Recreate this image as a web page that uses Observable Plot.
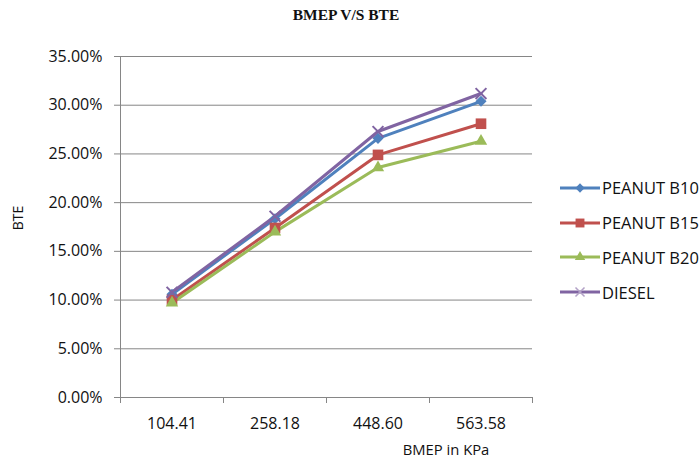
<!DOCTYPE html>
<html>
<head>
<meta charset="utf-8">
<script src="https://cdn.jsdelivr.net/npm/d3@7"></script>
<script src="https://cdn.jsdelivr.net/npm/@observablehq/plot@0.6"></script>
<style>
  body { margin: 0; background: #fff; }
  #wrap { position: relative; width: 700px; height: 460px; overflow: hidden; font-family: "Open Sans", sans-serif; color: #111; }
  #title { position: absolute; top: 7px; left: 0; width: 692px; text-align: center; font-family: "Liberation Serif", serif; font-weight: bold; font-size: 15.5px; line-height: 15.5px; }
  #ylabel { position: absolute; left: 18px; top: 218px; transform: translate(-50%, -50%) rotate(-90deg); font-size: 14px; line-height: 14px; white-space: nowrap; }
  #xlabel { position: absolute; left: 446px; top: 449px; transform: translate(-50%, -50%); font-size: 14.8px; line-height: 15px; white-space: nowrap; }
  #legend { position: absolute; left: 559px; top: 170.6px; font-size: 16.5px; }
  .item { display: flex; align-items: center; height: 34.7px; white-space: nowrap; }
  .item svg { margin-right: 1px; }
  #chart { position: absolute; left: 0; top: 0; }
</style>
</head>
<body>
<div id="wrap">
  <div id="chart"></div>
  <div id="title">BMEP V/S BTE</div>
  <div id="ylabel">BTE</div>
  <div id="xlabel">BMEP in KPa</div>
  <div id="legend"></div>
</div>
<script>
// Brake mean effective pressure (kPa) levels on the x axis
const loads = ["104.41", "258.18", "448.60", "563.58"];

// Brake thermal efficiency for each fuel
const peanutB10 = [0.106, 0.1835, 0.266, 0.304];
const peanutB15 = [0.100, 0.174, 0.249, 0.281];
const peanutB20 = [0.097, 0.170, 0.236, 0.263];
const diesel    = [0.108, 0.186, 0.273, 0.312];

const fuels = ["PEANUT B10", "PEANUT B15", "PEANUT B20", "DIESEL"];
const yTicks = [0, 0.05, 0.10, 0.15, 0.20, 0.25, 0.30, 0.35];

const colors = ["#4F81BD", "#C0504D", "#9BBB59", "#8064A2"];
const symbols = ["diamond2", "square", "triangle", "times"];
const radii = [5, 6, 4.6, 5];

const values = [peanutB10, peanutB15, peanutB20, diesel];
const rows = fuels.flatMap((fuel, s) =>
  values[s].map((bte, i) => ({ i, load: loads[i], fuel, bte }))
);

// category boundaries carry the x tick marks; labels sit at category centres
const bounds = d3.range(loads.length + 1).map(k => k - 0.5);
const centres = d3.range(loads.length);

const gray = "#868686";

const dotMarks = fuels.map((fuel, s) => {
  const data = rows.filter(d => d.fuel === fuel);
  const opts = { x: "i", y: "bte", symbol: () => symbols[s], r: radii[s] };
  if (symbols[s] === "times") {
    return Plot.dot(data, { ...opts, stroke: colors[s], strokeWidth: 2, fill: "none" });
  }
  return Plot.dot(data, { ...opts, fill: colors[s], stroke: "none" });
});

const chart = Plot.plot({
  width: 700,
  height: 460,
  marginLeft: 120,
  marginRight: 168,
  marginTop: 56,
  marginBottom: 63,
  style: { fontFamily: "Open Sans, sans-serif", fontSize: "16px", color: "#111", background: "transparent" },
  x: { type: "linear", domain: [-0.5, loads.length - 0.5] },
  y: { domain: [0, 0.35] },
  symbol: { type: "identity" },
  marks: [
    Plot.gridY(yTicks, { stroke: gray, strokeOpacity: 1 }),
    Plot.axisY(yTicks, { tickFormat: d3.format(".2%"), tickSize: 6, tickPadding: 12, stroke: gray, label: null }),
    Plot.ruleX([-0.5], { stroke: gray }),
    Plot.ruleY([0], { stroke: gray }),
    Plot.axisX(bounds, { tickSize: 6, tickFormat: () => "", stroke: gray, label: null }),
    Plot.axisX(centres, { tickSize: 0, tickPadding: 20, tickFormat: i => loads[i], label: null }),
    Plot.line(rows, { x: "i", y: "bte", z: "fuel", stroke: d => colors[fuels.indexOf(d.fuel)], strokeWidth: 3 }),
    ...dotMarks
  ]
});
document.getElementById("chart").appendChild(chart);

// legend: line swatch with marker, then the fuel name
const legend = d3.select("#legend");
fuels.forEach((fuel, s) => {
  const item = legend.append("div").attr("class", "item");
  const svg = item.append("svg").attr("width", 42).attr("height", 16);
  svg.append("line").attr("x1", 1).attr("x2", 41).attr("y1", 8).attr("y2", 8)
    .attr("stroke", colors[s]).attr("stroke-width", 3);
  const symType = { diamond2: d3.symbolDiamond2, square: d3.symbolSquare, triangle: d3.symbolTriangle, times: d3.symbolTimes }[symbols[s]];
  const size = Math.PI * radii[s] * radii[s] * 0.7;
  const path = svg.append("path").attr("transform", "translate(21,8)")
    .attr("d", d3.symbol(symType, size)());
  if (symbols[s] === "times") path.attr("fill", "none").attr("stroke", "#B3A2C7").attr("stroke-width", 1.5);
  else path.attr("fill", colors[s]);
  item.append("span").text(fuel);
});
</script>
</body>
</html>
